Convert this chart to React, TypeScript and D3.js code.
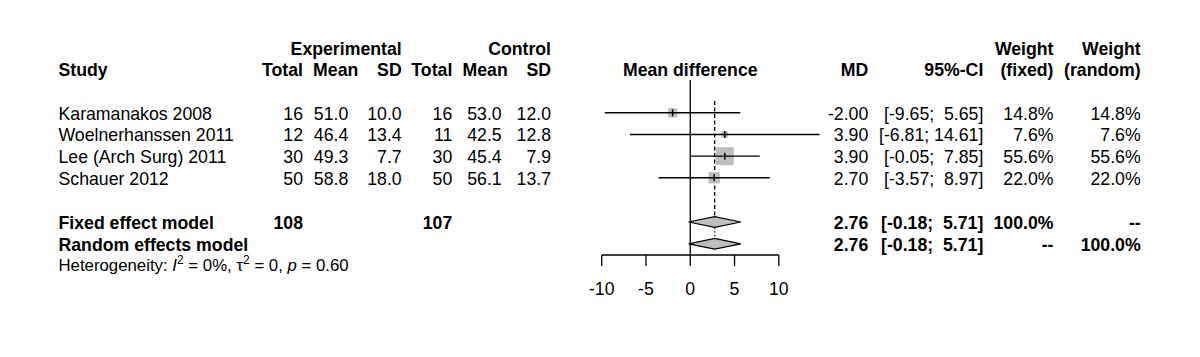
import React from "react";
import * as d3 from "d3";

const studies = ["Karamanakos 2008", "Woelnerhanssen 2011", "Lee (Arch Surg) 2011", "Schauer 2012"];
const expTotal = [16, 12, 30, 50];
const expMean = [51.0, 46.4, 49.3, 58.8];
const expSD = [10.0, 13.4, 7.7, 18.0];
const ctrlTotal = [16, 11, 30, 50];
const ctrlMean = [53.0, 42.5, 45.4, 56.1];
const ctrlSD = [12.0, 12.8, 7.9, 13.7];
const md = [-2.0, 3.9, 3.9, 2.7];
const ciLow = [-9.65, -6.81, -0.05, -3.57];
const ciHigh = [5.65, 14.61, 7.85, 8.97];
const wFixed = [14.8, 7.6, 55.6, 22.0];
const wRandom = [14.8, 7.6, 55.6, 22.0];

const pooledLabels = ["Fixed effect model", "Random effects model"];
const pooledMD = [2.76, 2.76];
const pooledLow = [-0.18, -0.18];
const pooledHigh = [5.71, 5.71];
const pooledWFixed = ["100.0%", "--"];
const pooledWRandom = ["--", "100.0%"];
const totalExp = 108;
const totalCtrl = 107;

const axisTicks = [-10, -5, 0, 5, 10];

const FONT = "'Liberation Sans', Arial, Helvetica, sans-serif";
const FS = 17.7;

const fmtCI = (lo: number, hi: number) => {
  const l = lo.toFixed(2).padStart(5, " ");
  const h = hi.toFixed(2).padStart(5, " ");
  return `[${l}; ${h}]`;
};

export default function App() {
  const x = d3.scaleLinear().domain([-10, 10]).range([601.7, 778.8]);
  const rowY = d3.scaleLinear().domain([0, 3]).range([112.8, 177.8]);
  const pooledY = [222, 243.8];
  const box = d3.scaleSqrt().domain([0, 55.6]).range([0, 18]);
  const axisY = 255;
  const textOff = 6.8;

  const T = (props: any) => (
    <text fontFamily={FONT} fontSize={FS} fill="#000" xmlSpace="preserve" style={{ whiteSpace: "pre" }} {...props} />
  );

  const col = {
    study: 58.5,
    eTot: 303,
    eMean: 348.3,
    eSD: 401.7,
    cTot: 452.3,
    cMean: 501.7,
    cSD: 551,
    md: 868.3,
    ci: 983.3,
    wf: 1053.5,
    wr: 1140.7,
  };

  const diamond = (i: number) => {
    const y = pooledY[i];
    const h = 5.4;
    return `M${x(pooledLow[i])},${y} L${x(pooledMD[i])},${y - h} L${x(pooledHigh[i])},${y} L${x(pooledMD[i])},${y + h} Z`;
  };

  return (
    <svg width={1200} height={357} style={{ position: "absolute", left: 0, top: 0, background: "#fff" }}>
      <rect width={1200} height={357} fill="#fff" />
      {/* headers */}
      <g fontWeight="bold">
        <T x={col.eSD} y={55} textAnchor="end" fontWeight="bold">Experimental</T>
        <T x={col.cSD} y={55} textAnchor="end" fontWeight="bold">Control</T>
        <T x={col.wf} y={55} textAnchor="end" fontWeight="bold">Weight</T>
        <T x={col.wr} y={55} textAnchor="end" fontWeight="bold">Weight</T>
        <T x={col.study} y={75.5} fontWeight="bold">Study</T>
        <T x={col.eTot} y={75.5} textAnchor="end" fontWeight="bold">Total</T>
        <T x={358.3} y={75.5} textAnchor="end" fontWeight="bold">Mean</T>
        <T x={col.eSD} y={75.5} textAnchor="end" fontWeight="bold">SD</T>
        <T x={col.cTot} y={75.5} textAnchor="end" fontWeight="bold">Total</T>
        <T x={507.7} y={75.5} textAnchor="end" fontWeight="bold">Mean</T>
        <T x={col.cSD} y={75.5} textAnchor="end" fontWeight="bold">SD</T>
        <T x={x(0)} y={75.5} textAnchor="middle" fontWeight="bold">Mean difference</T>
        <T x={col.md} y={75.5} textAnchor="end" fontWeight="bold">MD</T>
        <T x={col.ci} y={75.5} textAnchor="end" fontWeight="bold">95%-CI</T>
        <T x={col.wf} y={75.5} textAnchor="end" fontWeight="bold">(fixed)</T>
        <T x={col.wr} y={75.5} textAnchor="end" fontWeight="bold">(random)</T>
      </g>

      {/* study rows */}
      {studies.map((s, i) => {
        const y = rowY(i) + textOff;
        return (
          <g key={s}>
            <T x={col.study} y={y}>{s}</T>
            <T x={col.eTot} y={y} textAnchor="end">{expTotal[i]}</T>
            <T x={col.eMean} y={y} textAnchor="end">{expMean[i].toFixed(1)}</T>
            <T x={col.eSD} y={y} textAnchor="end">{expSD[i].toFixed(1)}</T>
            <T x={col.cTot} y={y} textAnchor="end">{ctrlTotal[i]}</T>
            <T x={col.cMean} y={y} textAnchor="end">{ctrlMean[i].toFixed(1)}</T>
            <T x={col.cSD} y={y} textAnchor="end">{ctrlSD[i].toFixed(1)}</T>
            <T x={col.md} y={y} textAnchor="end">{md[i].toFixed(2)}</T>
            <T x={col.ci} y={y} textAnchor="end">{fmtCI(ciLow[i], ciHigh[i])}</T>
            <T x={col.wf} y={y} textAnchor="end">{wFixed[i].toFixed(1) + "%"}</T>
            <T x={col.wr} y={y} textAnchor="end">{wRandom[i].toFixed(1) + "%"}</T>
          </g>
        );
      })}

      {/* pooled rows */}
      {pooledLabels.map((lab, i) => {
        const y = pooledY[i] + textOff;
        return (
          <g key={lab}>
            <T x={col.study} y={y} fontWeight="bold">{lab}</T>
            {i === 0 && <T x={col.eTot} y={y} textAnchor="end" fontWeight="bold">{totalExp}</T>}
            {i === 0 && <T x={col.cTot} y={y} textAnchor="end" fontWeight="bold">{totalCtrl}</T>}
            <T x={col.md} y={y} textAnchor="end" fontWeight="bold">{pooledMD[i].toFixed(2)}</T>
            <T x={col.ci} y={y} textAnchor="end" fontWeight="bold">{fmtCI(pooledLow[i], pooledHigh[i])}</T>
            <T x={col.wf} y={y} textAnchor="end" fontWeight="bold">{pooledWFixed[i]}</T>
            <T x={col.wr} y={y} textAnchor="end" fontWeight="bold">{pooledWRandom[i]}</T>
          </g>
        );
      })}

      {/* heterogeneity */}
      <text x={col.study} y={271} fontFamily={FONT} fontSize={16.8} fill="#000" xmlSpace="preserve" style={{ whiteSpace: "pre" }}>
        {"Heterogeneity: "}
        <tspan fontStyle="italic">I</tspan>
        <tspan fontSize={12} dy={-7.5}>2</tspan>
        <tspan dy={7.5}>{" = 0%, "}</tspan>
        <tspan>τ</tspan>
        <tspan fontSize={12} dy={-7.5}>2</tspan>
        <tspan dy={7.5}>{" = 0, "}</tspan>
        <tspan fontStyle="italic">p</tspan>
        <tspan>{" = 0.60"}</tspan>
      </text>

      {/* reference line at 0 */}
      <line x1={x(0)} x2={x(0)} y1={80} y2={axisY} stroke="#000" strokeWidth={1.3} />
      {/* fixed effect dashed line */}
      <line x1={x(pooledMD[0])} x2={x(pooledMD[0])} y1={101} y2={pooledY[0] - 5.4} stroke="#000" strokeWidth={1.3} strokeDasharray="4,2.5" />
      {/* random effect dotted line */}
      <line x1={x(pooledMD[1])} x2={x(pooledMD[1])} y1={pooledY[0] + 5.4} y2={pooledY[1] - 5.4} stroke="#000" strokeWidth={1.3} strokeDasharray="1.3,2.5" />

      {/* study squares and CIs */}
      {studies.map((s, i) => {
        const y = rowY(i);
        const sz = box(wFixed[i]);
        return (
          <g key={"m" + s}>
            <rect x={x(md[i]) - sz / 2} y={y - sz / 2} width={sz} height={sz} fill="#bebebe" />
            <line x1={x(ciLow[i])} x2={x(ciHigh[i])} y1={y} y2={y} stroke="#000" strokeWidth={1.4} />
            <line x1={x(md[i])} x2={x(md[i])} y1={y - 3.5} y2={y + 3.5} stroke="#000" strokeWidth={1.4} />
          </g>
        );
      })}

      {/* diamonds */}
      {pooledLabels.map((lab, i) => (
        <path key={"d" + lab} d={diamond(i)} fill="#bebebe" stroke="#000" strokeWidth={1.2} />
      ))}

      {/* axis */}
      <line x1={x(-10)} x2={x(10)} y1={axisY} y2={axisY} stroke="#000" strokeWidth={1.3} />
      {axisTicks.map((t) => (
        <g key={"t" + t}>
          <line x1={x(t)} x2={x(t)} y1={axisY} y2={axisY + 11} stroke="#000" strokeWidth={1.3} />
          <T x={x(t)} y={295} textAnchor="middle">{String(t)}</T>
        </g>
      ))}
    </svg>
  );
}
